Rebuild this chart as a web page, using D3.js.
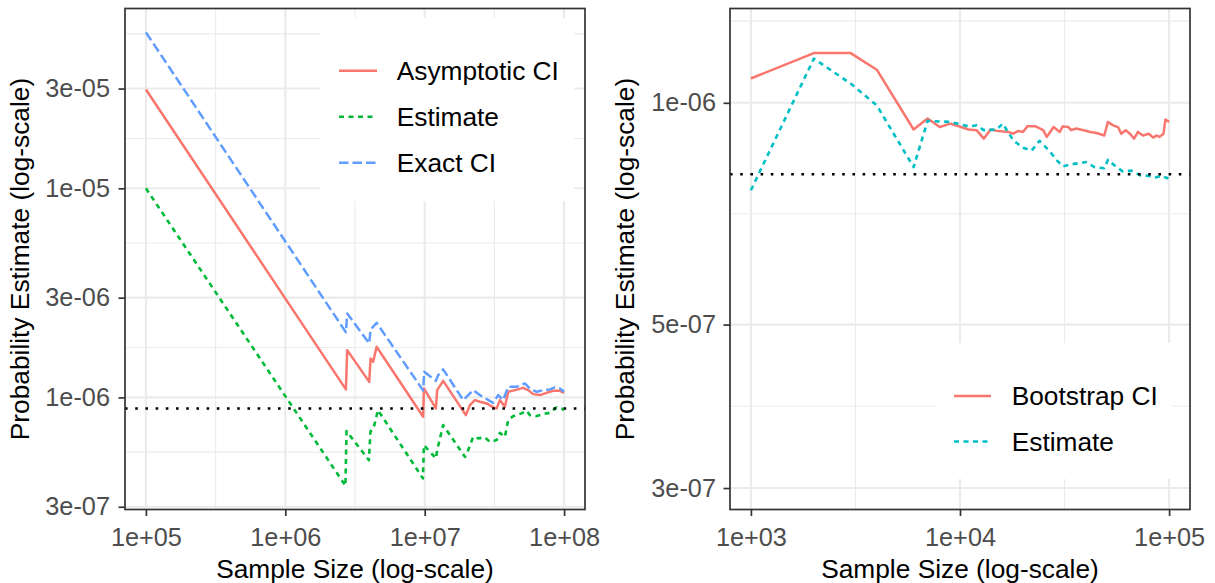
<!DOCTYPE html>
<html><head><meta charset="utf-8">
<script src="https://cdn.jsdelivr.net/npm/d3@7"></script>
<style>
body{margin:0;background:#fff;}
svg{display:block;font-family:"Liberation Sans",Arial,Helvetica,sans-serif;}
</style>
</head><body>
<svg id="chart" width="1215" height="583"></svg>
<script>
// ---------------- DATA ----------------
// Left panel: sample size vs probability estimate
const leftAsymN = [1e5, 2.721e6, 2.78e6, 4.0e6, 4.09e6, 4.27e6, 4.52e6, 9.75e6, 9.87e6, 1.203e7, 1.229e7, 1.357e7, 1.975e7, 2.11e7, 2.291e7, 2.489e7, 2.78e7, 3.1e7, 3.28e7, 3.464e7, 3.762e7, 3.972e7, 4.436e7, 5.09e7, 5.53e7, 6.0e7, 6.71e7, 7.49e7, 8.35e7, 9.33e7, 1e8];
const leftAsymP = [2.97e-5, 1.092e-6, 1.683e-6, 1.187e-6, 1.536e-6, 1.48e-6, 1.746e-6, 8.08e-7, 1.104e-6, 8.86e-7, 1.084e-6, 1.2e-6, 8.23e-7, 9.19e-7, 9.71e-7, 9.53e-7, 9.36e-7, 8.96e-7, 8.86e-7, 9.71e-7, 9.02e-7, 1.064e-6, 1.084e-6, 1.111e-6, 1.084e-6, 1.037e-6, 1.026e-6, 1.052e-6, 1.075e-6, 1.075e-6, 1.052e-6];

const leftEstN = [1e5, 2.70e6, 2.75e6, 3.98e6, 4.08e6, 4.32e6, 4.62e6, 9.71e6, 9.87e6, 1.203e7, 1.229e7, 1.357e7, 1.943e7, 2.052e7, 2.228e7, 2.42e7, 2.703e7, 2.935e7, 3.28e7, 3.464e7, 3.762e7, 3.972e7, 4.314e7, 4.956e7, 5.383e7, 5.685e7, 6.35e7, 7.08e7, 7.91e7, 8.84e7, 9.59e7, 1e8];
const leftEstP = [1e-5, 3.78e-7, 6.9e-7, 5.01e-7, 6.85e-7, 7.23e-7, 8.69e-7, 4.10e-7, 5.91e-7, 5.11e-7, 5.60e-7, 7.37e-7, 5.20e-7, 5.60e-7, 6.48e-7, 6.37e-7, 6.44e-7, 6.13e-7, 6.25e-7, 6.77e-7, 6.48e-7, 7.79e-7, 8.14e-7, 8.39e-7, 8.63e-7, 8.23e-7, 8.14e-7, 8.32e-7, 8.44e-7, 8.96e-7, 8.86e-7, 8.69e-7];

const leftExactN = [1e5, 2.72e6, 2.78e6, 4.0e6, 4.09e6, 4.52e6, 9.75e6, 9.92e6, 1.203e7, 1.25e7, 1.357e7, 1.889e7, 2.228e7, 2.559e7, 3.1e7, 3.368e7, 3.657e7, 3.972e7, 4.562e7, 5.233e7, 5.685e7, 6.35e7, 7.08e7, 7.91e7, 8.59e7, 9.33e7, 1e8];
const leftExactP = [5.57e-5, 2.05e-6, 2.522e-6, 1.813e-6, 2.114e-6, 2.274e-6, 1.08e-6, 1.326e-6, 1.2e-6, 1.278e-6, 1.361e-6, 9.71e-7, 1.084e-6, 1.014e-6, 9.42e-7, 1.026e-6, 9.71e-7, 1.124e-6, 1.124e-6, 1.167e-6, 1.104e-6, 1.064e-6, 1.084e-6, 1.092e-6, 1.116e-6, 1.104e-6, 1.064e-6];

const leftTrueP = 8.85e-7;

// Right panel
const rightBootN = [1000, 2000, 3000, 4000, 6000, 7000, 8000, 9000, 11000, 12000, 13000, 14000, 15000, 17000, 18000, 19000, 20000, 21000, 23000, 25000, 26000, 27000, 28000, 30000, 31000, 33000, 34000, 36000, 39000, 42000, 45000, 49000, 51000, 54000, 57000, 59000, 62000, 65000, 68000, 71000, 75000, 80000, 84000, 87000, 90000, 94000, 96000, 100000];
const rightBootP = [1.079e-6, 1.168e-6, 1.168e-6, 1.109e-6, 9.20e-7, 9.52e-7, 9.27e-7, 9.37e-7, 9.20e-7, 9.18e-7, 8.94e-7, 9.20e-7, 9.16e-7, 9.13e-7, 9.08e-7, 9.16e-7, 9.13e-7, 9.29e-7, 9.29e-7, 9.18e-7, 8.99e-7, 9.13e-7, 9.27e-7, 9.13e-7, 9.29e-7, 9.27e-7, 9.18e-7, 9.23e-7, 9.18e-7, 9.13e-7, 9.10e-7, 9.03e-7, 9.42e-7, 9.32e-7, 9.27e-7, 9.08e-7, 9.18e-7, 9.08e-7, 8.94e-7, 9.13e-7, 9.03e-7, 9.08e-7, 8.97e-7, 9.03e-7, 8.99e-7, 9.08e-7, 9.49e-7, 9.42e-7];

const rightEstN = [1000, 2000, 3000, 4000, 6000, 7000, 9000, 11000, 12000, 13000, 15000, 16000, 18000, 20000, 22000, 24000, 27000, 29000, 31000, 34000, 37000, 40000, 44000, 49000, 51000, 56000, 60000, 66000, 73000, 79000, 86000, 92000, 98000, 100000];
const rightEstP = [7.61e-7, 1.148e-6, 1.062e-6, 9.92e-7, 8.18e-7, 9.45e-7, 9.42e-7, 9.29e-7, 9.32e-7, 9.18e-7, 9.20e-7, 9.37e-7, 8.89e-7, 8.69e-7, 8.61e-7, 8.88e-7, 8.58e-7, 8.36e-7, 8.20e-7, 8.25e-7, 8.28e-7, 8.31e-7, 8.18e-7, 8.15e-7, 8.37e-7, 8.18e-7, 8.07e-7, 8.09e-7, 7.97e-7, 7.96e-7, 7.92e-7, 7.96e-7, 7.90e-7, 7.99e-7];

const rightTrueP = 8.0e-7;

// Ticks
const leftXTicks = [1e5, 1e6, 1e7, 1e8];
const leftXLabels = ["1e+05", "1e+06", "1e+07", "1e+08"];
const leftYTicks = [3e-7, 1e-6, 3e-6, 1e-5, 3e-5];
const leftYLabels = ["3e-07", "1e-06", "3e-06", "1e-05", "3e-05"];
const rightXTicks = [1e3, 1e4, 1e5];
const rightXLabels = ["1e+03", "1e+04", "1e+05"];
const rightYTicks = [3e-7, 5e-7, 1e-6];
const rightYLabels = ["3e-07", "5e-07", "1e-06"];

const leftSeriesNames = ["Asymptotic CI", "Estimate", "Exact CI"];
const rightSeriesNames = ["Bootstrap CI", "Estimate"];
const xTitle = "Sample Size (log-scale)";
const yTitle = "Probability Estimate (log-scale)";

// ---------------- STYLE ----------------
const styles = {
  solid:  {dash: null,      width: 2.5},
  dotted: {dash: "5,4.5",   width: 2.6},
  dashed: {dash: "9.5,4",   width: 2.5}
};
const GRID = "#EBEBEB";
const DARK = "#333333";
const TICKTXT = "#4D4D4D";

const svg = d3.select("#chart");
svg.append("rect").attr("width",1215).attr("height",583).attr("fill","#fff");

function minorBreaks(breaks){
  const b = breaks.map(Math.log10);
  const bd = b[1]-b[0];
  const ext = [b[0]-bd, ...b, b[b.length-1]+bd];
  const out = [];
  for(let i=0;i<ext.length-1;i++) out.push((ext[i]+ext[i+1])/2);
  return out.map(v=>Math.pow(10,v));
}

function drawPanel(cfg){
  const x = d3.scaleLog().domain(cfg.xDomain).range([cfg.left, cfg.right]);
  const y = d3.scaleLog().domain(cfg.yDomain).range([cfg.bottom, cfg.top]);
  const g = svg.append("g");
  const inX = v => v>cfg.xDomain[0] && v<cfg.xDomain[1];
  const inY = v => v>cfg.yDomain[0] && v<cfg.yDomain[1];

  // minor grid
  g.selectAll(".mx").data(minorBreaks(cfg.xTicks).filter(inX)).join("line")
    .attr("x1",d=>x(d)).attr("x2",d=>x(d)).attr("y1",cfg.top).attr("y2",cfg.bottom)
    .attr("stroke",GRID).attr("stroke-width",1.1);
  g.selectAll(".my").data(minorBreaks(cfg.yTicks).filter(inY)).join("line")
    .attr("y1",d=>y(d)).attr("y2",d=>y(d)).attr("x1",cfg.left).attr("x2",cfg.right)
    .attr("stroke",GRID).attr("stroke-width",1.1);
  // major grid
  g.selectAll(".Mx").data(cfg.xTicks).join("line")
    .attr("x1",d=>x(d)).attr("x2",d=>x(d)).attr("y1",cfg.top).attr("y2",cfg.bottom)
    .attr("stroke",GRID).attr("stroke-width",2.1);
  g.selectAll(".My").data(cfg.yTicks).join("line")
    .attr("y1",d=>y(d)).attr("y2",d=>y(d)).attr("x1",cfg.left).attr("x2",cfg.right)
    .attr("stroke",GRID).attr("stroke-width",2.1);

  // clip
  const cid = "clip"+cfg.id;
  svg.append("clipPath").attr("id",cid).append("rect")
    .attr("x",cfg.left).attr("y",cfg.top).attr("width",cfg.right-cfg.left).attr("height",cfg.bottom-cfg.top);
  const pg = g.append("g").attr("clip-path",`url(#${cid})`);

  const line = d3.line().x(d=>x(d[0])).y(d=>y(d[1]));
  cfg.series.forEach(s=>{
    const pts = s.n.map((v,i)=>[v,s.p[i]]);
    const st = styles[s.type];
    pg.append("path").datum(pts).attr("d",line)
      .attr("fill","none").attr("stroke",s.color).attr("stroke-width",st.width)
      .attr("stroke-linejoin","round")
      .attr("stroke-dasharray",st.dash);
  });
  // reference line
  pg.append("line").attr("x1",cfg.left).attr("x2",cfg.right)
    .attr("y1",y(cfg.trueP)).attr("y2",y(cfg.trueP))
    .attr("stroke","#000").attr("stroke-width",2.6).attr("stroke-dasharray","2.6,7.6");

  // legend
  const L = cfg.legend;
  g.append("rect").attr("x",L.x).attr("y",L.y).attr("width",L.w).attr("height",L.h).attr("fill","#fff");
  cfg.series.forEach((s,i)=>{
    const ry = L.firstRow + i*L.rowGap;
    const st = styles[s.type];
    g.append("line").attr("x1",L.keyX0).attr("x2",L.keyX1).attr("y1",ry).attr("y2",ry)
      .attr("stroke",s.color).attr("stroke-width",st.width).attr("stroke-dasharray",st.dash);
    g.append("text").attr("x",L.textX).attr("y",ry).attr("dy","0.36em")
      .attr("font-size",26.3).attr("fill","#000").text(s.name);
  });

  // border
  g.append("rect").attr("x",cfg.left).attr("y",cfg.top)
    .attr("width",cfg.right-cfg.left).attr("height",cfg.bottom-cfg.top)
    .attr("fill","none").attr("stroke",DARK).attr("stroke-width",1.7);

  // axes
  const ax = g.append("g").attr("transform",`translate(0,${cfg.bottom})`)
    .call(d3.axisBottom(x).tickValues(cfg.xTicks).tickFormat((d,i)=>cfg.xLabels[i])
      .tickSize(6.5).tickPadding(12).tickSizeOuter(0));
  const ay = g.append("g").attr("transform",`translate(${cfg.left},0)`)
    .call(d3.axisLeft(y).tickValues(cfg.yTicks).tickFormat((d,i)=>cfg.yLabels[i])
      .tickSize(6.5).tickPadding(cfg.yPad).tickSizeOuter(0));
  [ax,ay].forEach(a=>{
    a.select(".domain").remove();
    a.selectAll("line").attr("stroke",DARK).attr("stroke-width",1.7);
    a.selectAll("text").attr("fill",TICKTXT).attr("font-size",25.3)
      .attr("font-family",'"Liberation Sans",Arial,Helvetica,sans-serif');
  });

  // titles
  g.append("text").attr("x",(cfg.left+cfg.right)/2).attr("y",578)
    .attr("text-anchor","middle").attr("font-size",26.3).attr("fill","#000").text(xTitle);
  g.append("text").attr("transform",`translate(${cfg.yTitleX},${(cfg.top+cfg.bottom)/2}) rotate(-90)`)
    .attr("text-anchor","middle").attr("font-size",26.3).attr("fill","#000").text(yTitle);
}

drawPanel({
  id:"L", left:125, right:585, top:8.5, bottom:509.5,
  xDomain:[Math.pow(10,4.85), Math.pow(10,8.15)],
  yDomain:[Math.pow(10,-6.536), Math.pow(10,-4.140)],
  xTicks:leftXTicks, xLabels:leftXLabels, yTicks:leftYTicks, yLabels:leftYLabels,
  yPad:8.5, yTitleX:29, trueP:leftTrueP,
  series:[
    {name:leftSeriesNames[0], n:leftAsymN, p:leftAsymP, color:"#F8766D", type:"solid"},
    {name:leftSeriesNames[1], n:leftEstN, p:leftEstP, color:"#00BA38", type:"dotted"},
    {name:leftSeriesNames[2], n:leftExactN, p:leftExactP, color:"#619CFF", type:"dashed"}
  ],
  legend:{x:320, y:18, w:254, h:183, keyX0:339, keyX1:377, textX:396.7, firstRow:70.7, rowGap:46}
});

drawPanel({
  id:"R", left:730, right:1190, top:8.5, bottom:509.5,
  xDomain:[Math.pow(10,2.9), Math.pow(10,5.1)],
  yDomain:[Math.pow(10,-6.552), Math.pow(10,-5.872)],
  xTicks:rightXTicks, xLabels:rightXLabels, yTicks:rightYTicks, yLabels:rightYLabels,
  yPad:7.5, yTitleX:634, trueP:rightTrueP,
  series:[
    {name:rightSeriesNames[0], n:rightBootN, p:rightBootP, color:"#F8766D", type:"solid"},
    {name:rightSeriesNames[1], n:rightEstN, p:rightEstP, color:"#00BFC4", type:"dotted"}
  ],
  legend:{x:935, y:343, w:237, h:136, keyX0:954, keyX1:991, textX:1011.7, firstRow:396, rowGap:45.5}
});
</script>
</body></html>
